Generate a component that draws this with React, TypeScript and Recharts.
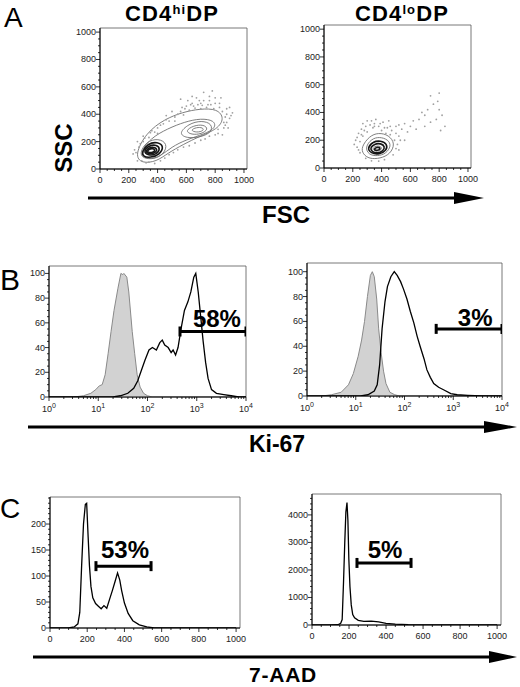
import { ComposedChart, XAxis, YAxis, Line, Area, Scatter, ReferenceArea, ReferenceDot } from 'recharts';

// ---------- axis ticks ----------
const FONT = 'Arial, "Liberation Sans", Helvetica, sans-serif';
const range = (step: number, max: number) =>
  Array.from({ length: Math.floor(max / step) + 1 }, (_, i) => i * step);
const minorOf = (all: number[], major: number[]) => all.filter((v) => !major.includes(v));

const LIN_1000 = [0, 200, 400, 600, 800, 1000];
const LIN_1000_MINOR = minorOf(range(50, 1000), LIN_1000);
const KI_PCT = [0, 20, 40, 60, 80, 100];
const KI_PCT_MINOR = minorOf(range(5, 100), KI_PCT);
const LOG_DECADES = [0, 1, 2, 3, 4];
const LOG_MINOR = [0, 1, 2, 3].flatMap((d) => [2, 3, 4, 5, 6, 7, 8, 9].map((k) => d + Math.log10(k)));
const AAD_HI_Y = [0, 50, 100, 150, 200];
const AAD_HI_Y_MINOR = minorOf(range(10, 250), AAD_HI_Y);
const AAD_LO_Y = [0, 1000, 2000, 3000, 4000];
const AAD_LO_Y_MINOR = minorOf(range(200, 4600), AAD_LO_Y);

// ---------- A: FSC / SSC contours (FSC, SSC) ----------
const hiOuter = [[240, 100], [320, 265], [450, 365], [575, 415], [694, 440], [815, 440], [865, 370], [815, 290], [694, 240], [579, 180], [470, 115], [394, 55], [290, 40]];
const hiMid = [[270, 110], [350, 225], [470, 295], [590, 345], [700, 370], [795, 355], [805, 300], [725, 255], [600, 215], [495, 160], [425, 95], [335, 65]];
const hiLeft1 = [[275, 115], [320, 200], [405, 225], [470, 185], [445, 110], [375, 70], [300, 78]];
const hiLeft2 = [[290, 122], [330, 185], [400, 200], [445, 165], [415, 105], [350, 82], [300, 90]];
const hiLeft3 = [[300, 128], [340, 172], [395, 178], [420, 145], [390, 105], [335, 98]];
const hiLeft4 = [[315, 132], [345, 160], [385, 160], [400, 132], [368, 110], [330, 112]];
const hiLeft5 = [[328, 134], [350, 150], [378, 148], [382, 128], [356, 118], [334, 122]];
const hiRight1 = [[545, 260], [615, 330], [705, 355], [780, 330], [775, 265], [690, 230], [600, 225]];
const hiRight2 = [[590, 278], [650, 318], [720, 325], [755, 292], [705, 255], [635, 250]];
const hiRight3 = [[625, 283], [670, 305], [715, 303], [722, 280], [672, 265]];
const hiDots = [
  [560, 420], [600, 460], [640, 480], [680, 470], [720, 500], [760, 530], [800, 480], [830, 450], [850, 420], [870, 380],
  [880, 340], [860, 300], [820, 260], [880, 400], [900, 370], [740, 450], [700, 440], [660, 445], [620, 430], [580, 395],
  [520, 380], [480, 350], [440, 330], [400, 300], [380, 270], [340, 230], [300, 200], [270, 160], [250, 120], [290, 60],
  [340, 50], [420, 60], [480, 105], [540, 140], [620, 170], [700, 210], [760, 240], [820, 290], [560, 510], [640, 530],
  [720, 560], [780, 570], [500, 420], [460, 390], [900, 450], [920, 410], [840, 520], [610, 500], [670, 520], [750, 470],
  [790, 440], [860, 340], [700, 480], [520, 350], [400, 260], [350, 265], [310, 225], [280, 185], [240, 140], [320, 45],
  [590, 440], [650, 460], [710, 465], [770, 470], [830, 480], [880, 440], [890, 300], [850, 250], [540, 400], [460, 360],
  [420, 320], [360, 280], [300, 240], [260, 200], [230, 110], [260, 60], [380, 40], [450, 80], [510, 120], [580, 160],
  [660, 190], [730, 220], [800, 250], [870, 320], [910, 390], [760, 500], [690, 500], [630, 470], [570, 450], [800, 520],
];

const loOuter = [[258, 150], [315, 230], [378, 255], [450, 238], [495, 175], [460, 100], [390, 68], [315, 65], [270, 100]];
const loMid = [[285, 150], [330, 210], [385, 225], [445, 205], [468, 160], [430, 102], [370, 85], [310, 95]];
const loIn1 = [[300, 145], [340, 190], [392, 198], [440, 175], [435, 125], [385, 98], [325, 105]];
const loIn2 = [[318, 142], [350, 175], [395, 178], [425, 155], [410, 120], [370, 106], [335, 115]];
const loIn3 = [[335, 140], [360, 160], [392, 158], [405, 138], [380, 120], [348, 123]];
const loIn4 = [[348, 138], [366, 150], [388, 148], [390, 133], [370, 126], [353, 128]];
const loDots = [
  [220, 200], [240, 250], [260, 280], [290, 300], [320, 310], [350, 320], [380, 300], [410, 330], [440, 290], [470, 270],
  [500, 250], [520, 230], [490, 200], [510, 170], [500, 140], [480, 95], [420, 60], [380, 50], [330, 52], [290, 70],
  [250, 110], [230, 150], [210, 170], [260, 240], [300, 260], [400, 270], [430, 250], [460, 300], [500, 300], [540, 280],
  [560, 320], [600, 300], [620, 340], [660, 350], [700, 380], [720, 420], [760, 460], [790, 480], [800, 420], [820, 380],
  [780, 350], [740, 330], [840, 300], [810, 270], [700, 300], [640, 280], [580, 260], [560, 200], [360, 350], [330, 340],
  [270, 320], [300, 340], [250, 190], [800, 540], [740, 520], [680, 400], [230, 220], [280, 270], [340, 290], [390, 320],
  [420, 290], [460, 240], [530, 200], [520, 130], [240, 130], [270, 230], [350, 300], [450, 340], [520, 310],
];

// ---------- B: Ki-67 histograms (log10 intensity, % of max) ----------
const kiHiIso = [[0.5, 0], [0.7, 1], [0.85, 3], [0.95, 6], [1.02, 9], [1.08, 10], [1.14, 18], [1.2, 35], [1.26, 53], [1.32, 70], [1.4, 88], [1.46, 100], [1.5, 99], [1.52, 100], [1.58, 97], [1.62, 85], [1.69, 53], [1.74, 35], [1.79, 18], [1.85, 8], [1.92, 3], [2.0, 1], [2.1, 0], [4, 0]];
const kiHiStain = [[0, 0], [1.3, 0], [1.45, 1], [1.6, 3], [1.72, 7], [1.8, 13], [1.88, 22], [1.95, 30], [2.03, 38], [2.1, 40], [2.18, 38], [2.25, 44], [2.3, 46], [2.35, 42], [2.42, 40], [2.48, 36], [2.52, 38], [2.57, 34], [2.62, 40], [2.68, 55], [2.75, 70], [2.82, 77], [2.88, 85], [2.94, 97], [2.98, 100], [3.03, 85], [3.08, 65], [3.13, 45], [3.18, 28], [3.23, 15], [3.3, 6], [3.4, 3], [3.55, 2], [3.7, 1], [3.85, 0], [4, 0]];
const kiLoIso = [[0.3, 0], [0.5, 1], [0.7, 3], [0.85, 9], [0.95, 18], [1.05, 32], [1.12, 45], [1.18, 60], [1.24, 80], [1.3, 97], [1.34, 100], [1.38, 96], [1.43, 78], [1.47, 54], [1.52, 35], [1.57, 20], [1.62, 10], [1.7, 3], [1.8, 1], [1.9, 0], [4, 0]];
const kiLoStain = [[0, 0], [1.1, 0], [1.25, 1], [1.38, 4], [1.44, 9], [1.49, 25], [1.54, 54], [1.6, 76], [1.65, 88], [1.72, 96], [1.79, 100], [1.85, 97], [1.92, 92], [1.98, 86], [2.05, 78], [2.12, 68], [2.19, 59], [2.26, 48], [2.32, 40], [2.4, 30], [2.46, 21], [2.53, 15], [2.6, 10], [2.7, 7], [2.8, 5], [2.95, 2], [3.08, 1], [3.3, 0.5], [3.6, 0], [4, 0]];

// ---------- C: 7-AAD histograms ----------
const aadHi = [[0, 0], [100, 0], [130, 2], [150, 8], [160, 30], [170, 120], [180, 200], [190, 238], [197, 240], [205, 175], [212, 120], [220, 80], [230, 58], [245, 47], [260, 42], [275, 37], [290, 43], [305, 38], [320, 55], [335, 72], [350, 90], [363, 106], [375, 92], [385, 72], [400, 48], [420, 28], [445, 14], [480, 6], [520, 2], [560, 0], [1000, 0]];
const aadLo = [[0, 0], [100, 0], [140, 10], [155, 60], [163, 200], [170, 1500], [177, 3000], [183, 4100], [189, 4450], [194, 3800], [199, 2400], [205, 1400], [212, 730], [220, 380], [230, 260], [250, 170], [280, 130], [320, 140], [360, 110], [400, 60], [450, 30], [520, 10], [600, 0], [1000, 0]];

// ---------- gates: [start, end, level], label position, text ----------
const gateKiHi = { from: 2.66, to: 4, y: 53, labelX: 3.41, text: '58%' };
const gateKiLo = { from: 2.65, to: 4, y: 54, labelX: 3.45, text: '3%' };
const gateAadHi = { from: 247, to: 543, y: 119, labelX: 403, text: '53%' };
const gateAadLo = { from: 243, to: 535, y: 2255, labelX: 395, text: '5%' };

const pts = (a: number[][]) => a.map(([x, y]) => ({ x, y }));

// ---------- chart pieces ----------
const YW = 40;
const XH = 24;
const MT = 10;
const MR = 16;

function XTick(props: any) {
  const { x, y, payload, majors, log } = props;
  const major = majors.includes(payload.value);
  return (
    <g>
      <line x1={x} x2={x} y1={y} y2={y + (major ? 4 : 2)} stroke="#000" strokeWidth={0.8} />
      {major &&
        (log ? (
          <text x={x} y={y + 15} textAnchor="middle" fontSize={9} fontFamily={FONT} fill="#222">
            10<tspan dy={-4} fontSize={7}>{payload.value}</tspan>
          </text>
        ) : (
          <text x={x} y={y + 14} textAnchor="middle" fontSize={9} fontFamily={FONT} fill="#222">
            {payload.value}
          </text>
        ))}
    </g>
  );
}

function YTick(props: any) {
  const { x, y, payload, majors } = props;
  const major = majors.includes(payload.value);
  return (
    <g>
      <line x1={x - (major ? 4 : 2)} x2={x} y1={y} y2={y} stroke="#000" strokeWidth={0.8} />
      {major && (
        <text x={x - 4} y={y + 3} textAnchor="end" fontSize={9} fontFamily={FONT} fill="#222">
          {payload.value}
        </text>
      )}
    </g>
  );
}

function Panel({ box, xDomain, yDomain, xMajor, xMinor, yMajor, yMinor, logX = false, children }: any) {
  const w = box[2] - box[0];
  const h = box[3] - box[1];
  return (
    <div style={{ position: 'absolute', left: box[0] - YW, top: box[1] - MT }}>
      <ComposedChart width={YW + w + MR} height={MT + h + XH} margin={{ top: MT, right: MR, bottom: 0, left: 0 }}>
        <XAxis dataKey="x" type="number" domain={xDomain} allowDataOverflow ticks={[...xMajor, ...xMinor]} interval={0}
          height={XH} tickSize={0} tickMargin={0} tickLine={false} axisLine={{ stroke: '#000' }}
          tick={<XTick majors={xMajor} log={logX} />} />
        <YAxis dataKey="y" type="number" domain={yDomain} allowDataOverflow ticks={[...yMajor, ...yMinor]} interval={0}
          width={YW} tickSize={0} tickMargin={0} tickLine={false} axisLine={{ stroke: '#000' }}
          tick={<YTick majors={yMajor} />} />
        <ReferenceArea x1={xDomain[0]} x2={xDomain[1]} y1={yDomain[0]} y2={yDomain[1]} fill="none" stroke="#555" strokeWidth={0.8} ifOverflow="visible" />
        {children}
      </ComposedChart>
    </div>
  );
}

const dotShape = (p: any) => <circle cx={p.cx} cy={p.cy} r={0.9} fill="#a0a0a0" />;

function contour(key: string, data: number[][], dark = false) {
  return (
    <Line key={key} data={pts(data)} dataKey="y" type="basisClosed" dot={false} stroke={dark ? '#151515' : '#707070'}
      strokeWidth={dark ? 1.6 : 0.9} isAnimationActive={false} />
  );
}

function gate(key: string, g: any, fontSize: number, offset: number) {
  return [
    <Line key={key} data={[{ x: g.from, y: g.y }, { x: g.to, y: g.y }]} dataKey="y" stroke="#000" strokeWidth={3}
      isAnimationActive={false}
      dot={(p: any) => <line key={`${key}-${p.index}`} x1={p.cx} x2={p.cx} y1={p.cy - 5} y2={p.cy + 5} stroke="#000" strokeWidth={3} />} />,
    <ReferenceDot key={`${key}-label`} x={g.labelX} y={g.y} r={0} fill="none" stroke="none"
      label={{ value: g.text, position: 'top', offset, fontSize, fontWeight: 'bold', fill: '#000', fontFamily: FONT }} />,
  ];
}

function Arrow({ x1, x2, y, head }: any) {
  return (
    <g>
      <rect x={x1} y={y - 1.5} width={x2 - head - x1 + 2} height={3} fill="#000" />
      <polygon points={`${x2 - head},${y - 6} ${x2},${y} ${x2 - head},${y + 6}`} fill="#000" />
    </g>
  );
}

export default function App() {
  const boldText = { fontFamily: FONT, fontWeight: 'bold' as const, fill: '#000' };
  return (
    <div style={{ position: 'absolute', left: 0, top: 0, width: 520, height: 687, background: '#fff', fontFamily: FONT }}>
      {/* A */}
      <Panel box={[100, 28, 247, 169]} xDomain={[0, 1021]} yDomain={[0, 1030]} xMajor={LIN_1000} xMinor={LIN_1000_MINOR} yMajor={LIN_1000} yMinor={LIN_1000_MINOR}>
        {[
          <Scatter key="d" data={pts(hiDots)} dataKey="y" shape={dotShape} isAnimationActive={false} />,
          contour('o', hiOuter), contour('m', hiMid), contour('l1', hiLeft1), contour('l2', hiLeft2, true),
          contour('l3', hiLeft3, true), contour('l4', hiLeft4, true), contour('l5', hiLeft5, true),
          contour('r1', hiRight1), contour('r2', hiRight2), contour('r3', hiRight3),
        ]}
      </Panel>
      <Panel box={[324, 25, 471, 168]} xDomain={[0, 1021]} yDomain={[0, 1030]} xMajor={LIN_1000} xMinor={LIN_1000_MINOR} yMajor={LIN_1000} yMinor={LIN_1000_MINOR}>
        {[
          <Scatter key="d" data={pts(loDots)} dataKey="y" shape={dotShape} isAnimationActive={false} />,
          contour('o', loOuter), contour('m', loMid), contour('i1', loIn1, true), contour('i2', loIn2, true),
          contour('i3', loIn3), contour('i4', loIn4, true),
        ]}
      </Panel>

      {/* B */}
      <Panel box={[49, 266, 246, 397]} xDomain={[0, 4]} yDomain={[0, 106]} xMajor={LOG_DECADES} xMinor={LOG_MINOR} yMajor={KI_PCT} yMinor={KI_PCT_MINOR} logX>
        {[
          <Area key="iso" data={pts(kiHiIso)} dataKey="y" type="linear" fill="#d2d2d2" fillOpacity={1} stroke="#8a8a8a" strokeWidth={1} isAnimationActive={false} />,
          <Line key="st" data={pts(kiHiStain)} dataKey="y" type="linear" dot={false} stroke="#000" strokeWidth={1.3} isAnimationActive={false} />,
          ...gate('g', gateKiHi, 24, 5),
        ]}
      </Panel>
      <Panel box={[307, 263, 502, 396]} xDomain={[0, 4]} yDomain={[0, 107]} xMajor={LOG_DECADES} xMinor={LOG_MINOR} yMajor={KI_PCT} yMinor={KI_PCT_MINOR} logX>
        {[
          <Area key="iso" data={pts(kiLoIso)} dataKey="y" type="linear" fill="#d2d2d2" fillOpacity={1} stroke="#8a8a8a" strokeWidth={1} isAnimationActive={false} />,
          <Line key="st" data={pts(kiLoStain)} dataKey="y" type="linear" dot={false} stroke="#000" strokeWidth={1.3} isAnimationActive={false} />,
          ...gate('g', gateKiLo, 24, 3),
        ]}
      </Panel>

      {/* C */}
      <Panel box={[50, 497, 240, 628]} xDomain={[0, 1021]} yDomain={[0, 252]} xMajor={LIN_1000} xMinor={LIN_1000_MINOR} yMajor={AAD_HI_Y} yMinor={AAD_HI_Y_MINOR}>
        {[
          <Line key="h" data={pts(aadHi)} dataKey="y" type="linear" dot={false} stroke="#000" strokeWidth={1.3} isAnimationActive={false} />,
          ...gate('g', gateAadHi, 24, 8),
        ]}
      </Panel>
      <Panel box={[312, 494, 501, 625]} xDomain={[0, 1021]} yDomain={[0, 4760]} xMajor={LIN_1000} xMinor={LIN_1000_MINOR} yMajor={AAD_LO_Y} yMinor={AAD_LO_Y_MINOR}>
        {[
          <Line key="h" data={pts(aadLo)} dataKey="y" type="linear" dot={false} stroke="#000" strokeWidth={1.3} isAnimationActive={false} />,
          ...gate('g', gateAadLo, 24, 5),
        ]}
      </Panel>

      {/* labels, titles and axis arrows */}
      <svg width={520} height={687} style={{ position: 'absolute', left: 0, top: 0, pointerEvents: 'none' }}>
        <text x={4} y={27} fontSize={28} fontFamily={FONT}>A</text>
        <text x={0} y={290} fontSize={30} fontFamily={FONT}>B</text>
        <text x={0} y={518} fontSize={28} fontFamily={FONT}>C</text>

        <text x={172} y={21} fontSize={22} letterSpacing={1.1} textAnchor="middle" {...boldText}>
          CD4<tspan fontSize={13} dy={-7}>hi</tspan><tspan dy={7}>DP</tspan>
        </text>
        <text x={402} y={21} fontSize={22} letterSpacing={1.1} textAnchor="middle" {...boldText}>
          CD4<tspan fontSize={13} dy={-7}>lo</tspan><tspan dy={7}>DP</tspan>
        </text>

        <text x={72} y={148} fontSize={24} textAnchor="middle" transform="rotate(-90, 72, 148)" {...boldText}>SSC</text>
        <text x={286} y={223} fontSize={24} textAnchor="middle" {...boldText}>FSC</text>
        <text x={277} y={452} fontSize={23} textAnchor="middle" {...boldText}>Ki-67</text>
        <text x={283} y={682} fontSize={21} letterSpacing={0.8} textAnchor="middle" {...boldText}>7-AAD</text>

        <Arrow x1={88} x2={484} y={198} head={30} />
        <Arrow x1={28} x2={517} y={427} head={33} />
        <Arrow x1={33} x2={517} y={657} head={28} />
      </svg>
    </div>
  );
}
